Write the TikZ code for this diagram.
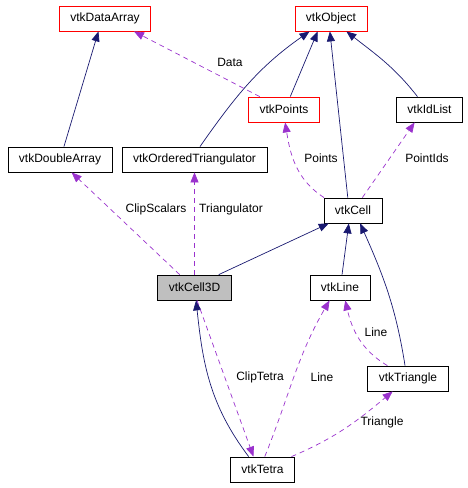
\documentclass[tikz,border=0pt]{standalone}
\usepackage{fontspec}
\setmainfont{Liberation Sans}
\usetikzlibrary{arrows.meta}

\definecolor{inhblue}{HTML}{191970}
\definecolor{usepurple}{HTML}{9A32CD}

\begin{document}
\begin{tikzpicture}[x=1pt, y=1pt,
    font=\fontsize{12}{14}\selectfont,
    cls/.style={
        draw=black,
        line width=0.8pt,
        inner xsep=11pt,
        inner ysep=0pt,
        minimum height=25pt
    },
    clsred/.style={
        cls,
        draw=red
    },
    clsmain/.style={
        cls,
        fill=black!25
    },
    inh/.style={
        draw=inhblue,
        line width=0.7pt,
        -{Triangle[length=10pt,width=8pt,fill=inhblue]}
    },
    use/.style={
        draw=usepurple,
        line width=0.7pt,
        dash pattern=on 5pt off 4pt,
        -{Triangle[length=10pt,width=8pt,fill=usepurple]}
    },
    lbl/.style={inner sep=0pt}
]
\useasboundingbox (0,0) rectangle (468,-488);

% classes
\node[clsred] (dataArray) at (105,-18.5) {vtkDataArray};
\node[clsred] (object) at (331,-18.5) {vtkObject};
\node[clsred] (points) at (284,-109.5) {vtkPoints};
\node[cls] (idList) at (429.5,-109.5) {vtkIdList};
\node[cls] (doubleArray) at (60,-159.5) {vtkDoubleArray};
\node[cls] (orderedTri) at (194.5,-159.5) {vtkOrderedTriangulator};
\node[cls] (cell) at (353,-210.5) {vtkCell};
\node[clsmain] (cell3D) at (194.5,-287.5) {vtkCell3D};
\node[cls] (line) at (340,-287.5) {vtkLine};
\node[cls] (triangle) at (408,-378.5) {vtkTriangle};
\node[cls] (tetra) at (262.5,-469.5) {vtkTetra};

% inheritance
\draw[inh] (doubleArray.73) -- (dataArray.243);
\draw[inh] (orderedTri.67) to[out=55,in=215] (object.211);
\draw[inh] (points.64) -- (object.224);
\draw[inh] (cell.112) -- (object.265);
\draw[inh] (idList.133) to[out=128,in=-38] (object.320);
\draw[inh] (cell3D.28) -- (cell.208);
\draw[inh] (line.81) -- (cell.252);
\draw[inh] (triangle.103) to[out=99,in=-66] (cell.299);
\draw[inh] (tetra.137) to[out=127,in=-84] (cell3D.277);

% usage
\draw[use] (points.152) -- (dataArray.336);
\draw[use] (cell.156) to[out=147,in=-81] (points.275);
\draw[use] (cell.54) -- (idList.221);
\draw[use] (cell3D.139) -- (doubleArray.312);
\draw[use] (cell3D.north) -- (orderedTri.south);
\draw[use] (cell3D.281) -- (tetra.125);
\draw[use] (tetra.80) to[out=68,in=-120] (line.231);
\draw[use] (triangle.148) to[out=149,in=-77] (line.292);
\draw[use] (tetra.24) to[out=23,in=220] (triangle.220);

% labels
\node[lbl] (lblData) at (230,-62) {Data};
\node[lbl] (lblPoints) at (321,-158) {Points};
\node[lbl] (lblPointIds) at (427,-158) {PointIds};
\node[lbl] (lblClipScalars) at (156,-209) {ClipScalars};
\node[lbl] (lblTriangulator) at (231,-209) {Triangulator};
\node[lbl] (lblClipTetra) at (260,-377) {ClipTetra};
\node[lbl] (lblLineTetra) at (322,-377) {Line};
\node[lbl] (lblLineTri) at (376,-332) {Line};
\node[lbl] (lblTriangle) at (382,-422) {Triangle};
\end{tikzpicture}
\end{document}
